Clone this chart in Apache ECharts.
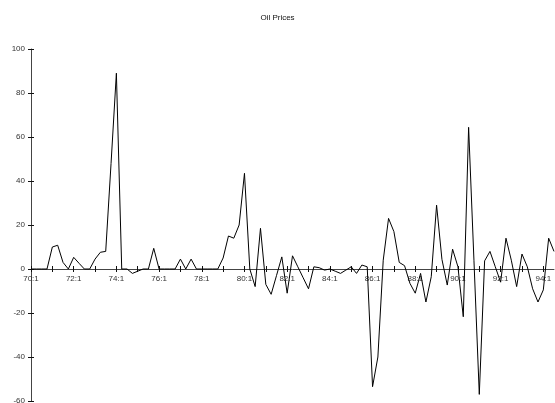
<!DOCTYPE html>
<html>
<head>
<meta charset="utf-8">
<script src="https://cdn.jsdelivr.net/npm/echarts@6/dist/echarts.min.js"></script>
<style>html,body{margin:0;padding:0;background:#fff}#c{width:555px;height:403px}</style>
</head>
<body>
<div id="c"></div>
<script>
var startYear = 70;
var quarterCount = 99;
var oilChange = [
  0, 0, 0, 0, 10, 10.8, 3, 0, 5.3, 2.6,
  0, 0, 4.5, 7.6, 8, 48, 89, 0, 0, -2,
  -1, 0, 0, 9.4, 0, 0, 0, 0, 4.5, 0,
  4.5, 0, 0, 0, 0, 0, 5, 15, 14, 20,
  43.5, 0, -8, 18.5, -7, -11.5, -3, 5.5, -11, 6,
  1, -4, -9, 1, 0.6, -0.5, 0, -1, -2, -0.5,
  1, -2, 1.8, 1, -53.5, -40, 4, 23, 17, 3,
  1.5, -6.5, -11, -2, -15, -3.5, 29, 4.4, -7.3, 9,
  1, -21.7, 64.4, 4, -57, 3.7, 8, 1, -6, 14,
  4, -8, 6.8, 1, -9, -15, -9.5, 14, 8
];
var quarters = [];
for (var k = 0; k < quarterCount; k++) {
  quarters.push((startYear + Math.floor(k / 4)) + ':' + (k % 4 + 1));
}
var yMin = -60, yMax = 100, yStep = 20;

var W = 555, H = 403;
var plotLeft = 31, plotRight = 1, plotTop = 49, plotBottom = 2;
var plotH = H - plotTop - plotBottom;
var zeroY = plotTop + plotH * (yMax - 0) / (yMax - yMin);

var chart = echarts.init(document.getElementById('c'), null, {renderer: 'canvas'});
var font = 'Liberation Sans, Arial, sans-serif';
var axisColor = '#444';
var tickColor = '#111';
function hiddenX(gi) {
  return {type: 'category', data: quarters, boundaryGap: false, gridIndex: gi, show: false};
}
function hiddenY(gi) {
  return {type: 'value', min: yMin, max: yMax, interval: yStep, gridIndex: gi, show: false};
}
chart.setOption({
  animation: false,
  title: {
    text: 'Oil Prices', left: 'center', top: 9,
    textStyle: {fontFamily: font, fontSize: 8, fontWeight: 'normal', color: '#111'}
  },
  grid: [
    {left: plotLeft, right: plotRight, top: plotTop, bottom: plotBottom, outerBoundsMode: 'none'},
    {left: plotLeft, right: plotRight, top: plotTop, bottom: H - zeroY, outerBoundsMode: 'none'},
    {left: plotLeft, right: plotRight, top: zeroY, bottom: plotBottom, outerBoundsMode: 'none'},
    {left: 0, right: W - plotLeft, top: plotTop, bottom: plotBottom, outerBoundsMode: 'none'}
  ],
  xAxis: [
    hiddenX(0),
    {
      type: 'category', data: quarters, boundaryGap: false, gridIndex: 1, position: 'bottom',
      axisLine: {show: true, onZero: false, lineStyle: {color: axisColor, width: 1}},
      axisTick: {show: true, interval: 3, length: 3, inside: false, lineStyle: {color: tickColor}},
      axisLabel: {interval: 7, margin: 6, fontFamily: font, fontSize: 8, color: '#333'},
      splitLine: {show: false}
    },
    {
      type: 'category', data: quarters, boundaryGap: false, gridIndex: 2, position: 'top',
      axisLine: {show: false, onZero: false},
      axisTick: {show: true, interval: 3, length: 3, inside: false, lineStyle: {color: tickColor}},
      axisLabel: {show: false},
      splitLine: {show: false}
    },
    hiddenX(3)
  ],
  yAxis: [
    {
      type: 'value', min: yMin, max: yMax, interval: yStep, gridIndex: 0, position: 'left',
      axisLine: {show: true, lineStyle: {color: axisColor, width: 1}},
      axisTick: {show: true, length: 3, inside: false, lineStyle: {color: tickColor}},
      axisLabel: {margin: 6, fontFamily: font, fontSize: 8, color: '#333'},
      splitLine: {show: false}
    },
    hiddenY(1),
    hiddenY(2),
    {
      type: 'value', min: yMin, max: yMax, interval: yStep, gridIndex: 3, position: 'right',
      axisLine: {show: false},
      axisTick: {show: true, length: 3, inside: false, lineStyle: {color: tickColor}},
      axisLabel: {show: false},
      splitLine: {show: false}
    }
  ],
  series: [{
    type: 'line', data: oilChange, xAxisIndex: 0, yAxisIndex: 0,
    symbol: 'none', showSymbol: false,
    lineStyle: {color: '#000', width: 1}
  }]
});
</script>
</body>
</html>
